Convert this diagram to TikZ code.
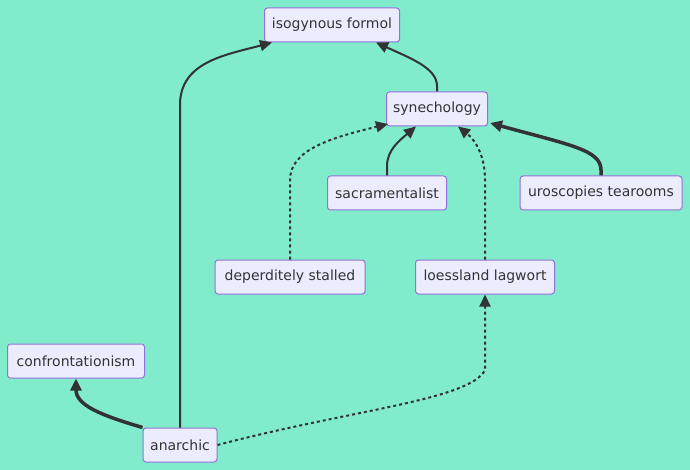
\documentclass[tikz,border=0pt]{standalone}
\usepackage{fontspec}
\setmainfont{DejaVu Sans}
\usetikzlibrary{arrows.meta}
\definecolor{bgcol}{RGB}{128,236,204}
\definecolor{boxfill}{RGB}{236,236,255}
\definecolor{boxline}{RGB}{147,112,219}
\definecolor{linecol}{RGB}{51,51,51}
\tikzset{
  box/.style={draw=boxline, fill=boxfill, rounded corners=3pt, line width=1pt,
    minimum height=34pt, inner xsep=6pt, font=\fontsize{14}{16}\selectfont, text=linecol},
  edge/.style={draw=linecol, line width=2pt, -{Triangle[length=12pt,width=11pt]}},
  heavy/.style={edge, line width=3.5pt},
  dots/.style={edge, dash pattern=on 3pt off 3pt}
}
\begin{document}
\begin{tikzpicture}[x=1pt, y=-1pt]
  \fill[bgcol] (0,0) rectangle (690,470);
  \useasboundingbox (0,0) rectangle (690,470);
  % nodes
  \node[box, minimum width=135pt] (formol) at (332,25) {isogynous formol};
  \node[box, minimum width=101pt] (synech) at (437,109) {synechology};
  \node[box, minimum width=119pt] (sacram) at (387,193) {sacramentalist};
  \node[box, minimum width=162pt] (urosc) at (601,193) {uroscopies tearooms};
  \node[box, minimum width=150pt] (deperd) at (290,277) {deperditely stalled};
  \node[box, minimum width=139pt] (loess) at (485,277) {loessland lagwort};
  \node[box, minimum width=137pt] (confront) at (76,361) {confrontationism};
  \node[box, minimum width=74pt] (anarch) at (180,445) {anarchic};
  % edges
  \draw[edge] (anarch.north) -- (180,105) .. controls (180,62) and (225,55) .. (formol.south -| 272,0);
  \draw[edge] (synech.north) -- (437,86) .. controls (437,68) and (410,58) .. (formol.south -| 376,0);
  \draw[edge] (sacram.north) -- (387,166) .. controls (387,150) and (400,140) .. (synech.south -| 416,0);
  \draw[heavy] (urosc.north) -- (601,170) .. controls (601,150) and (570,145) .. (490,123);
  \draw[dots] (deperd.north) -- (290,180) .. controls (290,150) and (330,138) .. (388,124);
  \draw[dots] (loess.north) -- (485,180) .. controls (485,155) and (475,140) .. (synech.south -| 458,0);
  \draw[heavy] (anarch.north west) .. controls (100,415) and (76,405) .. (confront.south);
  \draw[dots] (anarch.east) .. controls (350,410) and (470,400) .. (485,370) -- (loess.south);
\end{tikzpicture}
\end{document}
